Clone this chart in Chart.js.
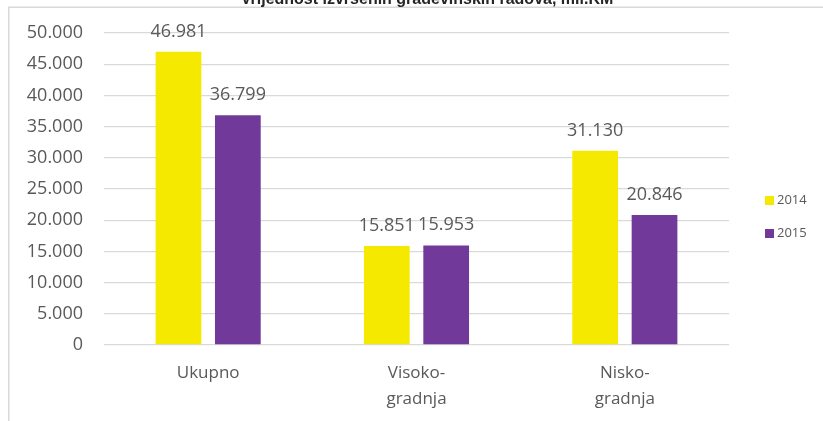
<!DOCTYPE html>
<html>
<head>
<meta charset="utf-8">
<script src="https://cdn.jsdelivr.net/npm/chart.js@4"></script>
<style>
  html, body { margin: 0; padding: 0; background: #fff; }
  #wrap { width: 823px; height: 421px; position: relative; }
</style>
</head>
<body>
<div id="wrap"><canvas id="chart"></canvas></div>
<script>
const categories = ['Ukupno', ['Visoko-', 'gradnja'], ['Nisko-', 'gradnja']];
const seriesNames = ['2014', '2015'];
const values2014 = [46981, 15851, 31130];
const values2015 = [36799, 15953, 20846];
const titleText = 'Vrijednost izvršenih građevinskih radova, mil.KM';

const gray = '#595959';
const fmt = v => String(v).replace(/\B(?=(\d{3})+(?!\d))/g, '.');

// frame + cut-off title
const framePlugin = {
  id: 'frame',
  beforeDraw(chart) {
    const c = chart.ctx;
    c.save();
    c.strokeStyle = '#d9d9d9';
    c.lineWidth = 1.5;
    c.beginPath();
    c.moveTo(8.75, 421);
    c.lineTo(8.75, 7.25);
    c.lineTo(823, 7.25);
    c.stroke();
    c.fillStyle = '#262626';
    c.font = 'bold 16px "Liberation Sans", Arial, sans-serif';
    c.textAlign = 'center';
    c.textBaseline = 'alphabetic';
    c.fillText(titleText, 427, 4);
    c.restore();
  }
};

// value labels above bars
const labelPlugin = {
  id: 'barLabels',
  afterDatasetsDraw(chart) {
    const c = chart.ctx;
    c.save();
    c.fillStyle = gray;
    c.font = '18px "Open Sans", sans-serif';
    c.textAlign = 'center';
    c.textBaseline = 'alphabetic';
    chart.data.datasets.forEach((ds, i) => {
      chart.getDatasetMeta(i).data.forEach((bar, j) => {
        c.fillText(fmt(ds.data[j]), bar.x, bar.y - 15);
      });
    });
    c.restore();
  }
};

// legend on the right
const legendPlugin = {
  id: 'sideLegend',
  afterDraw(chart) {
    const c = chart.ctx;
    c.save();
    c.font = '13px "Open Sans", sans-serif';
    c.textBaseline = 'middle';
    chart.data.datasets.forEach((ds, i) => {
      const y = 200.5 + i * 33;
      c.fillStyle = ds.backgroundColor;
      c.fillRect(765, y - 4.5, 9, 9);
      c.fillStyle = gray;
      c.fillText(ds.label, 777, y);
    });
    c.restore();
  }
};

const ctx = document.querySelector('#chart').getContext('2d');
new Chart(ctx, {
  type: 'bar',
  data: {
    labels: categories,
    datasets: [
      { label: seriesNames[0], data: values2014, backgroundColor: '#f5e900' },
      { label: seriesNames[1], data: values2015, backgroundColor: '#70399a' }
    ]
  },
  options: {
    responsive: true,
    maintainAspectRatio: false,
    animation: false,
    layout: { padding: { top: 33, right: 94, bottom: 0, left: 0 } },
    categoryPercentage: 0.57,
    barPercentage: 0.77,
    plugins: {
      legend: { display: false },
      tooltip: { enabled: false }
    },
    scales: {
      x: {
        grid: { display: false, drawTicks: false },
        border: { display: false },
        afterFit: s => { s.height = 76; },
        ticks: {
          color: gray,
          padding: 15,
          maxRotation: 0,
          autoSkip: false,
          font: { family: '"Open Sans", sans-serif', size: 17, lineHeight: 1.55 }
        }
      },
      y: {
        min: 0,
        max: 50000,
        afterFit: s => { s.width = 104; },
        grid: { color: '#d9d9d9', lineWidth: 1.3, drawTicks: false },
        border: { display: false },
        ticks: {
          stepSize: 5000,
          color: gray,
          padding: 21,
          font: { family: '"Open Sans", sans-serif', size: 18 },
          callback: v => fmt(v)
        }
      }
    }
  },
  plugins: [framePlugin, labelPlugin, legendPlugin]
});
</script>
</body>
</html>
